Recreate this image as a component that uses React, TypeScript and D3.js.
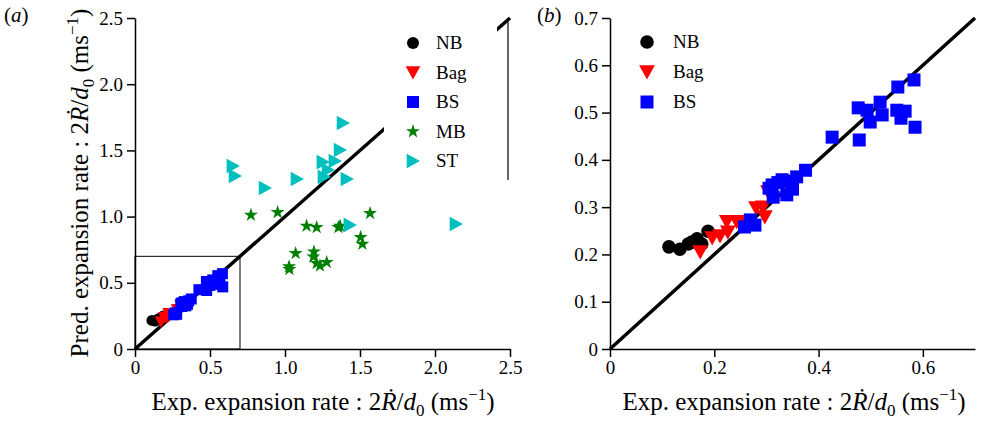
import { useEffect, useRef } from 'react';
import * as d3 from 'd3';

// NB (no breakup)
const nbExp = [0.113, 0.134, 0.150, 0.157, 0.167, 0.176, 0.188];
const nbPred = [0.216, 0.211, 0.222, 0.226, 0.233, 0.222, 0.249];

// Bag breakup
const bagExp = [0.173, 0.196, 0.211, 0.224, 0.226, 0.243, 0.253, 0.280, 0.293, 0.297, 0.303];
const bagPred = [0.205, 0.235, 0.239, 0.269, 0.247, 0.269, 0.266, 0.298, 0.300, 0.279, 0.332];

// Bag-and-stamen
const bsExp = [0.258, 0.269, 0.278, 0.305, 0.311, 0.313, 0.322, 0.330, 0.339, 0.345, 0.350, 0.358, 0.375,
  0.426, 0.478, 0.476, 0.493, 0.499, 0.518, 0.522, 0.552, 0.550, 0.566, 0.558, 0.585, 0.583];
const bsPred = [0.258, 0.273, 0.262, 0.340, 0.347, 0.321, 0.352, 0.358, 0.326, 0.355, 0.338, 0.364, 0.378,
  0.448, 0.442, 0.510, 0.505, 0.480, 0.522, 0.495, 0.554, 0.505, 0.503, 0.488, 0.469, 0.569];

// Multimode
const mbExp = [0.773, 0.951, 1.144, 1.211, 1.356, 1.367, 1.567, 1.504, 1.516, 1.071, 1.027, 1.029, 1.193, 1.189, 1.211, 1.233, 1.278];
const mbPred = [1.012, 1.032, 0.929, 0.919, 0.919, 0.929, 1.025, 0.844, 0.793, 0.723, 0.622, 0.602, 0.735, 0.697, 0.647, 0.629, 0.655];

// Sheet-thinning
const stExp = [0.653, 0.667, 0.867, 1.080, 1.253, 1.260, 1.287, 1.333, 1.367, 1.387, 1.413, 1.433, 2.140];
const stPred = [1.382, 1.307, 1.216, 1.284, 1.412, 1.300, 1.352, 1.420, 1.503, 1.707, 1.284, 0.937, 0.944];

const ticksA = [0, 0.5, 1, 1.5, 2, 2.5];
const ticksBx = [0, 0.2, 0.4, 0.6];
const ticksBy = [0, 0.1, 0.2, 0.3, 0.4, 0.5, 0.6, 0.7];

const FONT = '"Liberation Serif", "DejaVu Serif", "Times New Roman", serif';

const pair = (xs: number[], ys: number[]) => xs.map((x, i) => [x, ys[i]] as [number, number]);

const series = [
  { name: 'NB', kind: 'circle', color: '#000000', pts: pair(nbExp, nbPred) },
  { name: 'Bag', kind: 'down', color: '#ff0000', pts: pair(bagExp, bagPred) },
  { name: 'BS', kind: 'square', color: '#0000ff', pts: pair(bsExp, bsPred) },
  { name: 'MB', kind: 'star', color: '#008000', pts: pair(mbExp, mbPred) },
  { name: 'ST', kind: 'right', color: '#00bfbf', pts: pair(stExp, stPred) },
];

// marker half-size per kind, panel (a) / legend (a) / panel (b)
const sizeA: Record<string, number> = { circle: 5.5, down: 6, square: 5.5, star: 6, right: 7 };
const sizeLegA: Record<string, number> = { circle: 6, down: 7, square: 6, star: 6, right: 7 };
const sizeB: Record<string, number> = { circle: 6.8, down: 7.5, square: 6.5, star: 6, right: 7.5 };

function shape(kind: string, r: number) {
  if (kind === 'circle') return d3.symbol(d3.symbolCircle, Math.PI * r * r)()!;
  if (kind === 'square') return `M${-r},${-r}H${r}V${r}H${-r}Z`;
  if (kind === 'down') return `M0,${r}L${-r * 1.05},${-r * 0.9}L${r * 1.05},${-r * 0.9}Z`;
  if (kind === 'right') return `M${r},0L${-r * 0.9},${-r * 1.05}L${-r * 0.9},${r * 1.05}Z`;
  return d3.symbol(d3.symbolStar, r * r * 1.7)()!;
}

const fmt = (d: d3.NumberValue) => (+d === 0 ? '0' : d3.format('.1f')(d));

function AxisTitle({ x, y, rotate, label }: { x: number; y: number; rotate?: boolean; label: string }) {
  return (
    <text
      transform={rotate ? `translate(${x},${y}) rotate(-90)` : `translate(${x},${y})`}
      textAnchor="middle" fontFamily={FONT} fontSize={25} fill="#000">
      {label} expansion rate : 2<tspan fontStyle="italic">R&#x307;</tspan>/<tspan fontStyle="italic">d</tspan>
      <tspan fontSize={17} dy={6}>0</tspan>
      <tspan dy={-6}> (ms</tspan>
      <tspan fontSize={17} dy={-10}>−1</tspan>
      <tspan dy={10}>)</tspan>
    </text>
  );
}

export default function App() {
  const ref = useRef<SVGSVGElement>(null);

  const xA = d3.scaleLinear().domain([0, 2.5]).range([135, 510]);
  const yA = d3.scaleLinear().domain([0, 2.5]).range([349, 18]);
  const xB = d3.scaleLinear().domain([0, 0.7]).range([610, 975]);
  const yB = d3.scaleLinear().domain([0, 0.7]).range([349, 18]);

  useEffect(() => {
    const svg = d3.select(ref.current);
    const style = (g: d3.Selection<any, any, any, any>) => {
      g.attr('font-family', FONT).attr('font-size', 19);
      g.selectAll('text').attr('fill', '#000');
      g.selectAll('line').attr('stroke', '#000').attr('stroke-width', 1.5);
      g.select('.domain').attr('stroke', '#000').attr('stroke-width', 1.5);
    };
    svg.select<SVGGElement>('.ax-a-x')
      .call(d3.axisBottom(xA).tickValues(ticksA).tickFormat(fmt).tickSize(8).tickSizeOuter(0).tickPadding(4))
      .call(style);
    svg.select<SVGGElement>('.ax-a-y')
      .call(d3.axisLeft(yA).tickValues(ticksA).tickFormat(fmt).tickSize(8).tickSizeOuter(0).tickPadding(4))
      .call(style);
    svg.select<SVGGElement>('.ax-b-x')
      .call(d3.axisBottom(xB).tickValues(ticksBx).tickFormat(fmt).tickSize(8).tickSizeOuter(0).tickPadding(4))
      .call(style);
    svg.select<SVGGElement>('.ax-b-y')
      .call(d3.axisLeft(yB).tickValues(ticksBy).tickFormat(fmt).tickSize(8).tickSizeOuter(0).tickPadding(4))
      .call(style);
  }, []);

  const diag = d3.line<[number, number]>();

  const panel = (xs: d3.ScaleLinear<number, number>, ys: d3.ScaleLinear<number, number>, lim: number, list: typeof series, sz: Record<string, number>) => (
    <g>
      <path d={diag([[xs(0), ys(0)], [xs(lim), ys(lim)]])!} stroke="#000" strokeWidth={3.5} fill="none" />
      {list.map((s) => (
        <g key={s.name}>
          {s.pts.map(([px, py], i) => (
            <path key={i} d={shape(s.kind, sz[s.kind])} transform={`translate(${xs(px)},${ys(py)})`} fill={s.color} />
          ))}
        </g>
      ))}
    </g>
  );

  return (
    <svg ref={ref} width={982} height={425} style={{ position: 'absolute', left: 0, top: 0, background: '#fff' }}>
      {/* panel (a) */}
      {panel(xA, yA, 2.5, series, sizeA)}
      <rect x={xA(0)} y={yA(0.7)} width={xA(0.7) - xA(0)} height={yA(0) - yA(0.7)} fill="none" stroke="#000" strokeWidth={1} />
      <rect x={384} y={25} width={113} height={153} fill="#fff" />
      <line x1={xA(2.5) - 2} x2={xA(2.5) - 2} y1={yA(2.5)} y2={180} stroke="#000" strokeWidth={1.2} />
      {series.map((s, i) => (
        <g key={s.name} transform={`translate(413,${43 + i * 29.5})`}>
          <path d={shape(s.kind, sizeLegA[s.kind])} fill={s.color} />
          <text x={23} y={6} fontFamily={FONT} fontSize={19} fill="#000">{s.name}</text>
        </g>
      ))}
      <g className="ax-a-x" transform="translate(0,349)" />
      <g className="ax-a-y" transform="translate(135,0)" />
      <AxisTitle x={323} y={410} label="Exp." />
      <AxisTitle x={88} y={183} rotate label="Pred." />
      <text x={4} y={22} fontFamily={FONT} fontSize={21} fill="#000">(<tspan fontStyle="italic">a</tspan>)</text>

      {/* panel (b) */}
      {panel(xB, yB, 0.7, series.slice(0, 3), sizeB)}
      {series.slice(0, 3).map((s, i) => (
        <g key={s.name} transform={`translate(647,${42 + i * 30})`}>
          <path d={shape(s.kind, sizeB[s.kind])} fill={s.color} />
          <text x={26} y={6} fontFamily={FONT} fontSize={19} fill="#000">{s.name}</text>
        </g>
      ))}
      <g className="ax-b-x" transform="translate(0,349)" />
      <g className="ax-b-y" transform="translate(610,0)" />
      <AxisTitle x={794} y={410} label="Exp." />
      <text x={537} y={22} fontFamily={FONT} fontSize={21} fill="#000">(<tspan fontStyle="italic">b</tspan>)</text>
    </svg>
  );
}
